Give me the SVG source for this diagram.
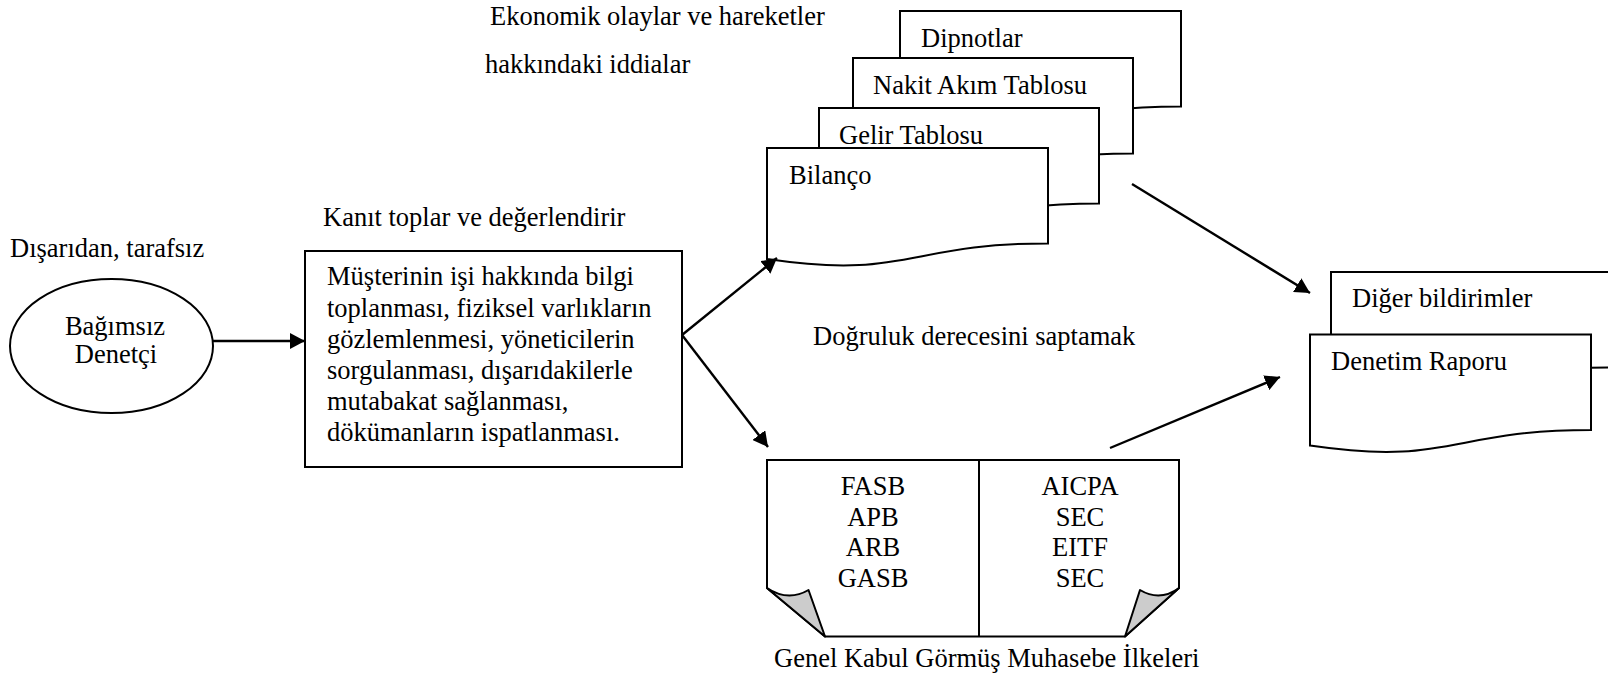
<svg xmlns="http://www.w3.org/2000/svg" width="1608" height="678" viewBox="0 0 1608 678">
<style>
  text { font-family: "Liberation Serif", "Times New Roman", serif; font-size: 26.5px; fill: #000; }
  .shape { fill: #fff; stroke: #000; stroke-width: 2; }
  .flap { fill: #cccccc; stroke: #000; stroke-width: 2; stroke-linejoin: round; }
  .conn { fill: none; stroke: #000; stroke-width: 2.4; }
  .mid { text-anchor: middle; }
</style>
<defs>
  <marker id="arrow" markerUnits="userSpaceOnUse" markerWidth="16" markerHeight="16" refX="15" refY="8" orient="auto">
    <path d="M0,0 L15,8 L0,16 Z" fill="#000"/>
  </marker>
</defs>
<rect width="1608" height="678" fill="#fff"/>

<text x="490" y="25">Ekonomik olaylar ve hareketler</text>
<text x="485" y="73">hakkındaki iddialar</text>
<text x="10" y="257">Dışarıdan, tarafsız</text>
<text x="323" y="226">Kanıt toplar ve değerlendirir</text>
<text x="813" y="345">Doğruluk derecesini saptamak</text>

<g id="auditor">
  <ellipse class="shape" cx="111.5" cy="346" rx="101.5" ry="67"/>
  <text class="mid" x="115" y="335">Bağımsız</text>
  <text class="mid" x="116" y="363">Denetçi</text>
</g>

<g id="evidence">
  <rect class="shape" x="305" y="251" width="377" height="216"/>
  <text x="327" y="285">Müşterinin işi hakkında bilgi</text>
  <text x="327" y="316.5">toplanması, fiziksel varlıkların</text>
  <text x="327" y="347.5">gözlemlenmesi, yöneticilerin</text>
  <text x="327" y="378.5">sorgulanması, dışarıdakilerle</text>
  <text x="327" y="409.5">mutabakat sağlanması,</text>
  <text x="327" y="440.5">dökümanların ispatlanması.</text>
</g>

<g id="dipnotlar">
  <path class="shape" d="M900,11 H1181 V106.4 C1040.5,106.4 1040.5,142.8 900,122.1 Z"/>
  <text x="921" y="47">Dipnotlar</text>
</g>
<g id="nakit">
  <path class="shape" d="M853,58 H1133 V153.4 C993,153.4 993,189.8 853,169.1 Z"/>
  <text x="873" y="94">Nakit Akım Tablosu</text>
</g>
<g id="gelir">
  <path class="shape" d="M819,108 H1099 V203.4 C959,203.4 959,239.8 819,219.1 Z"/>
  <text x="839" y="144">Gelir Tablosu</text>
</g>
<g id="bilanco">
  <path class="shape" d="M767,148 H1048 V243.4 C907.5,243.4 907.5,279.8 767,259.1 Z"/>
  <text x="789" y="184">Bilanço</text>
</g>

<g id="diger">
  <path class="shape" d="M1331,272 H1612 V367.4 C1471.5,367.4 1471.5,403.8 1331,383.1 Z"/>
  <text x="1352" y="307">Diğer bildirimler</text>
</g>
<g id="denetim">
  <path class="shape" d="M1310,334.5 H1591 V429.9 C1450.5,429.9 1450.5,466.3 1310,445.6 Z"/>
  <text x="1331" y="370">Denetim Raporu</text>
</g>

<g id="gkgmi">
  <path class="shape" d="M767,460 H1179 V588 L1125,636.5 H825 L767,588 Z"/>
  <line x1="979" y1="460" x2="979" y2="636.5" stroke="#000" stroke-width="2"/>
  <path class="flap" d="M767,588 Q788,602 808.5,590 L825,636.5 Z"/>
  <path class="flap" d="M1179,588 Q1160,602 1140,590 L1125,636.5 Z"/>
  <text class="mid" x="873" y="495">FASB</text>
  <text class="mid" x="873" y="525.5">APB</text>
  <text class="mid" x="873" y="556">ARB</text>
  <text class="mid" x="873" y="586.5">GASB</text>
  <text class="mid" x="1080" y="495">AICPA</text>
  <text class="mid" x="1080" y="525.5">SEC</text>
  <text class="mid" x="1080" y="556">EITF</text>
  <text class="mid" x="1080" y="586.5">SEC</text>
  <text x="774" y="667">Genel Kabul Görmüş Muhasebe İlkeleri</text>
</g>

<g id="connectors">
  <line class="conn" x1="213" y1="341" x2="305" y2="341" marker-end="url(#arrow)"/>
  <line class="conn" x1="682" y1="335" x2="777" y2="258" marker-end="url(#arrow)"/>
  <line class="conn" x1="682" y1="335" x2="768" y2="447" marker-end="url(#arrow)"/>
  <line class="conn" x1="1132" y1="184" x2="1310" y2="293" marker-end="url(#arrow)"/>
  <line class="conn" x1="1110" y1="448" x2="1280" y2="377" marker-end="url(#arrow)"/>
</g>
</svg>
